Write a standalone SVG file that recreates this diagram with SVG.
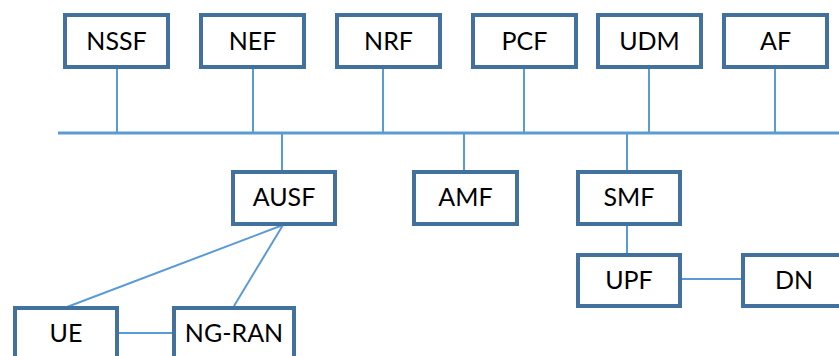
<svg xmlns="http://www.w3.org/2000/svg" width="839" height="356" viewBox="0 0 839 356">
<style>
.box{fill:#fff;stroke:#41719C;stroke-width:4}
.t{font-family:Lato,"Open Sans",sans-serif;font-size:25px;fill:#000;text-anchor:middle}
.c{stroke:#5B9BD5;stroke-width:2;fill:none}
.bus{stroke:#5B9BD5;stroke-width:3;fill:none}
</style>
<rect width="839" height="356" fill="#fff"/>
<g id="connectors">
<line class="bus" x1="58" y1="133" x2="839" y2="133"/>
<line class="c" x1="117" y1="69" x2="117" y2="133"/>
<line class="c" x1="253" y1="69" x2="253" y2="133"/>
<line class="c" x1="383" y1="69" x2="383" y2="133"/>
<line class="c" x1="524" y1="69" x2="524" y2="133"/>
<line class="c" x1="649" y1="69" x2="649" y2="133"/>
<line class="c" x1="775" y1="69" x2="775" y2="133"/>
<line class="c" x1="282" y1="133" x2="282" y2="170"/>
<line class="c" x1="464" y1="133" x2="464" y2="170"/>
<line class="c" x1="627" y1="133" x2="627" y2="170"/>
<line class="c" x1="627" y1="226" x2="627" y2="253"/>
<line class="c" x1="682" y1="279" x2="741" y2="279"/>
<line class="c" x1="119" y1="333" x2="172" y2="333"/>
<line class="c" x1="283" y1="225" x2="67" y2="307"/>
<line class="c" x1="283" y1="225" x2="234" y2="306"/>
</g>
<g id="NSSF"><rect class="box" x="65" y="15" width="103" height="52"/><text class="t" x="116.5" y="50">NSSF</text></g>
<g id="NEF"><rect class="box" x="201" y="15" width="103" height="52"/><text class="t" x="252.5" y="50">NEF</text></g>
<g id="NRF"><rect class="box" x="337" y="15" width="103" height="52"/><text class="t" x="388.5" y="50">NRF</text></g>
<g id="PCF"><rect class="box" x="473" y="15" width="103" height="52"/><text class="t" x="524.5" y="50">PCF</text></g>
<g id="UDM"><rect class="box" x="598" y="15" width="103" height="52"/><text class="t" x="649.5" y="50">UDM</text></g>
<g id="AF"><rect class="box" x="724" y="15" width="103" height="52"/><text class="t" x="775.5" y="50">AF</text></g>
<g id="AUSF"><rect class="box" x="233" y="172" width="102" height="52"/><text class="t" x="284" y="206">AUSF</text></g>
<g id="AMF"><rect class="box" x="414" y="172" width="103" height="52"/><text class="t" x="465.5" y="206">AMF</text></g>
<g id="SMF"><rect class="box" x="578" y="172" width="102" height="52"/><text class="t" x="629" y="206">SMF</text></g>
<g id="UPF"><rect class="box" x="578" y="255" width="102" height="51"/><text class="t" x="629" y="289">UPF</text></g>
<g id="DN"><rect class="box" x="743" y="255" width="103" height="51"/><text class="t" x="794" y="289">DN</text></g>
<g id="UE"><rect class="box" x="15" y="308" width="102" height="52"/><text class="t" x="66" y="342">UE</text></g>
<g id="NG-RAN"><rect class="box" x="174" y="308" width="120" height="52"/><text class="t" x="234" y="342">NG-RAN</text></g>
</svg>
